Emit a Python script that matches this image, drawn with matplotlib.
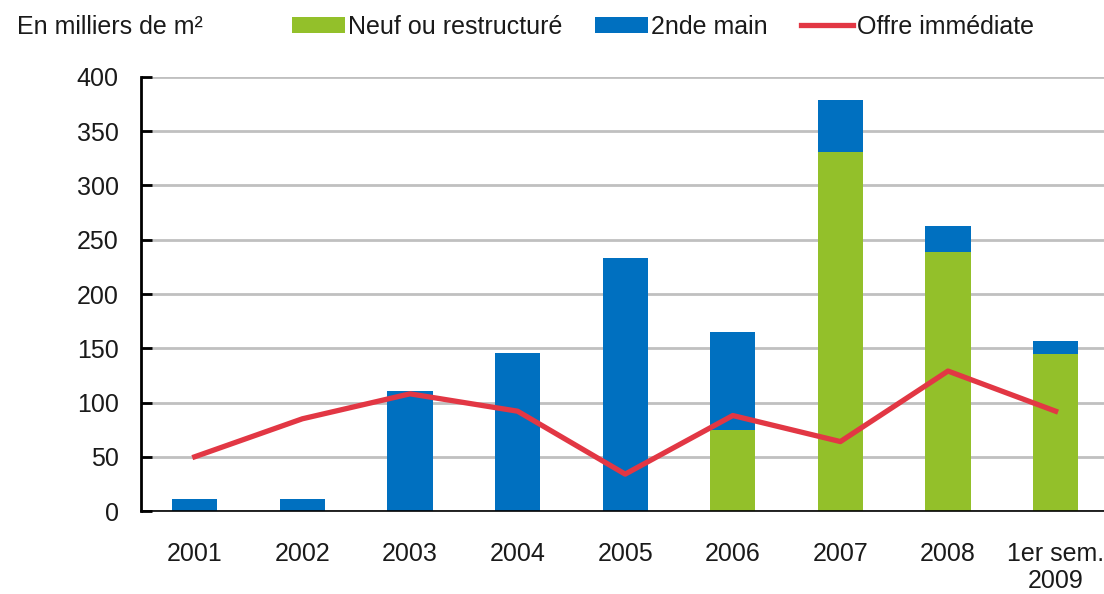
import numpy as np
import matplotlib.pyplot as plt

plt.rcParams['font.family'] = ['Liberation Sans', 'DejaVu Sans']
plt.rcParams['text.color'] = '#1a1a1a'

categories = ['2001', '2002', '2003', '2004', '2005', '2006', '2007', '2008', '1er sem.\n2009']
neuf = [0, 0, 0, 0, 0, 75, 331, 239, 145]
seconde_main = [11, 11, 111, 146, 233, 90, 48, 24, 12]
offre = [50, 85, 108, 92, 34, 88, 64, 129, 92]

green = '#93c02a'
blue = '#0070c0'
red = '#e23744'
fs = 18

fig = plt.figure(figsize=(11.04, 5.94), dpi=100)
ax = fig.add_axes([0.1277, 0.1397, 0.8723, 0.7307])

x = np.arange(len(categories))
ax.set_axisbelow(True)
ax.yaxis.grid(True, color='#c0c0c0', lw=2)
ax.bar(x, neuf, width=0.42, color=green, label='Neuf ou restructuré')
ax.bar(x, seconde_main, width=0.42, bottom=neuf, color=blue, label='2nde main')
ax.plot(x, offre, color=red, lw=3.8, label='Offre immédiate')

ax.set_xlim(-0.5, 8.45)
ax.set_ylim(0, 400)
ax.set_yticks(range(0, 401, 50))
ax.set_xticks(x)
ax.set_xticklabels(categories, fontsize=fs, color='#1a1a1a', linespacing=1.2)
ax.tick_params(axis='x', length=0, pad=22)
ax.tick_params(axis='y', direction='in', length=8, width=2, labelsize=fs,
               labelcolor='#1a1a1a', pad=16)
for s in ['top', 'right']:
    ax.spines[s].set_visible(False)
ax.spines['left'].set_linewidth(2)
ax.spines['bottom'].set_linewidth(1.2)

fig.text(0.015, 0.955, 'En milliers de m²', fontsize=fs, va='center')
h, l = ax.get_legend_handles_labels()
order = [1, 2, 0]
fig.legend([h[i] for i in order], [l[i] for i in order], loc='center left',
           bbox_to_anchor=(0.2645, 0.955), ncol=3, frameon=False, fontsize=fs,
           handlelength=2.1, handleheight=0.6, handletextpad=0.15, columnspacing=1.3,
           borderaxespad=0, borderpad=0)

fig.savefig('out.png', dpi=100)
